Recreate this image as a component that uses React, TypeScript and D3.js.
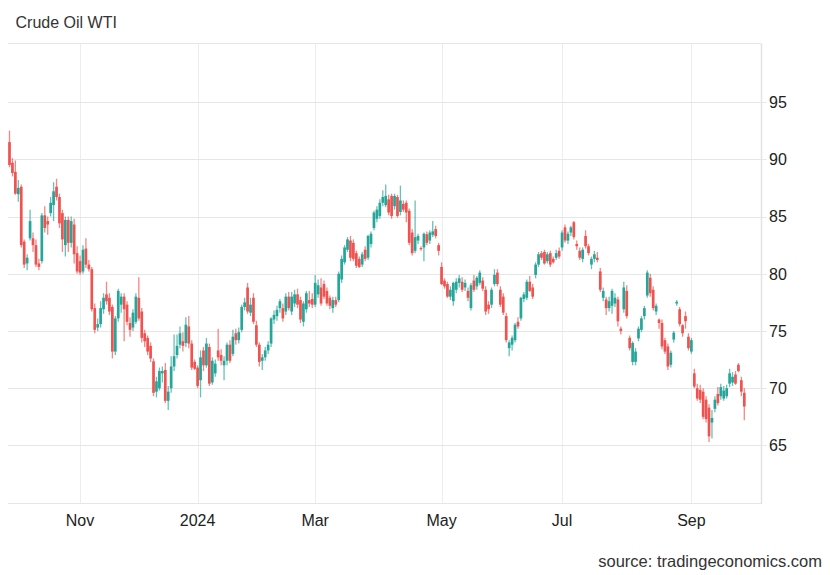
import React from 'react';
import * as d3 from 'd3';

// OHLC per trading day (Sep 29 2023 .. Sep 27 2024)
const opens = [
  91.5, 89.7, 88.9, 86.95, 87.6, 82.8, 80.9, 83.1, 83.1, 82.5, 80.9, 81.1, 85.1, 84.6, 85.3, 86.0, 87.6, 86.7, 85.3, 82.5, 84.7, 82.7, 84.3, 81.8,
  81.1, 80.2, 82.2, 80.8, 80.4, 77.0, 75.3, 75.6, 76.9, 78.2, 77.9, 77.1, 73.2, 76.1, 77.3, 78.0, 77.3, 75.7, 75.3, 75.8, 77.9, 76.7, 74.8, 74.4, 73.7, 72.35, 69.7, 70.0, 71.3, 71.6, 68.9, 70.0, 71.9, 72.9, 73.8, 74.1, 73.95, 75.4, 73.9, 72.3,
  71.8, 70.7, 73.3, 72.0, 73.6, 70.5, 71.3, 73.3, 72.9, 72.0, 72.4, 73.8, 73.0, 74.8, 74.2, 75.1, 77.1, 78.8, 76.6, 77.9, 75.5, 73.8, 72.4, 72.7, 73.3, 73.9, 76.0, 76.3, 77.0, 77.0, 76.7, 78.0, 76.7, 77.4, 78.2, 77.7, 75.8, 76.9, 77.7, 77.8,
  77.3, 78.2, 78.8, 79.1, 78.5, 77.9, 77.0, 77.7, 77.7, 79.5, 81.0, 82.1, 82.9, 82.7, 81.8, 81.3, 80.8, 82.1, 81.4, 82.6, 84.0, 84.8, 85.05, 86.2, 86.0, 86.5, 86.8, 85.9, 86.7, 85.4, 86.1, 86.2, 85.5, 83.6, 82.0, 82.9, 82.25, 82.3, 83.45, 82.9, 83.4, 83.9, 82.5,
  80.6, 79.4, 79.1, 78.0, 77.6, 78.6, 79.2, 79.3, 78.8, 78.5, 77.0, 79.4, 78.9, 79.2, 79.4, 78.6, 77.3, 77.3, 79.1, 80.1, 78.6, 78.0, 76.3, 73.5, 73.8, 74.2, 75.8, 76.1, 77.8, 77.9, 79.3, 78.8, 79.9, 80.8, 81.8, 81.9, 81.1, 81.8, 81.3, 81.4, 82.0,
  82.3, 84.05, 82.9, 83.6, 84.5, 82.6, 82.0, 81.3, 83.3, 82.4, 80.8, 81.3, 81.4, 80.2, 77.9, 77.75, 77.0, 77.2, 77.4, 77.75, 75.2, 76.9, 78.5, 74.4, 72.3, 72.3, 74.35, 75.1, 76.3, 78.1, 79.65, 78.6, 76.7, 76.0, 75.7, 74.2, 73.65, 72.05, 74.25, 77.4, 76.9, 75.5, 76.3, 74.5,
  73.2, 71.3, 70.0, 69.85, 69.7, 69.0, 68.3, 67.0, 68.2, 69.5, 69.3, 69.1, 69.3, 70.4, 70.5, 71.2, 72.05, 70.7, 69.6,
];
const highs = [
  92.5, 90.1, 89.9, 88.2, 87.8, 83.0, 81.7, 85.6, 83.6, 83.0, 81.3, 85.3, 85.9, 85.0, 86.7, 88.0, 88.3, 87.0, 85.6, 85.0, 85.0, 85.0, 84.8, 82.4,
  81.6, 82.5, 83.1, 81.2, 80.6, 77.4, 76.1, 77.6, 78.3, 79.3, 78.3, 77.3, 76.3, 78.7, 78.3, 78.3, 77.6, 76.2, 76.9, 78.3, 79.7, 77.0, 75.1, 74.6, 74.0, 72.6, 71.0, 71.8, 71.9, 72.2, 70.2, 72.8, 74.7, 74.7, 75.4, 74.9, 76.2, 76.3, 74.2, 72.5,
  72.0, 73.3, 73.6, 74.4, 73.9, 72.7, 72.5, 75.2, 73.4, 72.8, 74.0, 74.2, 75.1, 75.2, 75.3, 77.3, 77.9, 79.2, 77.9, 78.3, 75.9, 74.0, 73.0, 73.6, 74.1, 76.2, 76.8, 77.2, 77.8, 77.4, 78.3, 78.4, 78.4, 78.6, 78.7, 78.0, 77.6, 78.5, 78.5, 78.3,
  79.9, 79.5, 79.6, 79.4, 78.8, 78.1, 78.0, 78.0, 80.2, 81.6, 82.5, 83.2, 83.3, 83.0, 82.0, 81.5, 81.9, 82.4, 83.4, 83.7, 85.5, 85.9, 86.5, 87.3, 87.8, 86.9, 87.0, 87.0, 86.9, 87.7, 86.4, 86.4, 85.7, 83.9, 86.4, 83.5, 82.4, 83.6, 83.7, 83.8, 84.6, 84.2, 82.7,
  81.0, 79.6, 79.3, 78.9, 79.3, 79.6, 79.9, 79.7, 79.5, 78.8, 79.2, 79.9, 79.8, 80.3, 79.7, 78.9, 77.6, 78.8, 80.4, 80.4, 78.9, 78.3, 76.6, 74.2, 74.6, 75.7, 76.2, 78.0, 78.4, 79.5, 79.8, 79.1, 81.0, 81.9, 82.0, 82.1, 81.9, 82.0, 81.5, 82.1, 82.3,
  83.8, 84.3, 83.7, 84.2, 84.6, 82.9, 82.3, 82.3, 83.8, 82.6, 81.5, 82.0, 81.9, 80.5, 78.8, 78.0, 78.0, 78.7, 78.3, 78.0, 75.4, 79.3, 79.0, 74.6, 74.1, 73.5, 75.4, 76.3, 77.2, 80.3, 80.0, 78.9, 77.4, 76.1, 76.0, 74.4, 73.9, 73.3, 75.0, 77.7, 77.1, 75.6, 76.7, 74.8,
  74.4, 71.7, 70.4, 70.3, 70.0, 69.3, 68.6, 68.1, 69.3, 70.1, 70.4, 70.2, 70.3, 71.7, 71.4, 71.5, 72.2, 71.0, 70.0,
];
const lows = [
  89.3, 88.5, 86.9, 86.3, 82.3, 80.5, 80.3, 82.9, 81.9, 80.6, 80.3, 80.9, 83.6, 83.4, 85.0, 84.6, 86.4, 84.0, 81.9, 81.5, 81.9, 82.3, 80.9, 80.0,
  79.9, 80.0, 80.5, 80.2, 76.7, 74.8, 75.0, 75.3, 76.5, 77.3, 76.4, 72.6, 72.9, 75.8, 76.6, 74.1, 75.5, 74.5, 75.0, 75.6, 75.9, 74.0, 73.6, 72.9, 72.3, 69.3, 69.2, 69.8, 70.5, 68.7, 68.1, 69.6, 71.5, 72.6, 73.5, 73.2, 73.6, 73.5, 71.6, 71.6,
  70.0, 69.2, 71.5, 71.8, 70.2, 70.3, 71.0, 72.4, 72.0, 70.7, 72.0, 72.2, 72.8, 73.8, 73.9, 74.9, 76.8, 76.5, 76.3, 75.6, 73.6, 71.9, 71.6, 72.4, 73.0, 73.6, 75.6, 75.9, 76.6, 75.8, 76.4, 76.8, 76.4, 77.1, 77.0, 75.7, 75.4, 76.6, 77.1, 77.0,
  77.1, 77.9, 77.2, 77.8, 77.2, 76.9, 76.6, 77.1, 77.5, 79.2, 80.8, 81.9, 81.1, 81.1, 80.5, 80.5, 80.6, 81.1, 81.2, 82.3, 83.8, 84.5, 84.8, 85.9, 85.8, 85.1, 84.8, 85.6, 84.9, 85.1, 85.4, 84.5, 82.5, 81.6, 81.8, 82.6, 82.0, 81.1, 82.5, 82.6, 83.2, 83.1, 81.6,
  79.0, 78.7, 77.9, 77.7, 77.2, 78.3, 78.8, 78.4, 78.5, 77.6, 76.8, 78.4, 78.6, 79.0, 78.5, 76.4, 76.5, 77.0, 78.9, 78.9, 77.1, 76.4, 74.0, 72.8, 73.3, 74.0, 75.2, 75.9, 77.5, 77.7, 78.4, 77.8, 79.6, 80.6, 81.2, 80.8, 80.9, 80.6, 80.9, 81.2, 81.3,
  82.0, 82.7, 82.6, 83.3, 83.0, 82.1, 81.2, 81.0, 82.2, 81.6, 80.4, 81.0, 81.0, 78.4, 77.6, 76.4, 76.7, 76.5, 77.1, 75.4, 74.7, 76.6, 76.1, 73.3, 72.0, 72.0, 74.1, 74.9, 76.0, 77.9, 78.0, 76.8, 76.4, 75.2, 73.4, 73.0, 71.6, 71.8, 74.0, 77.2, 75.4, 74.5, 75.2, 73.3,
  73.0, 70.0, 68.9, 68.7, 67.3, 67.0, 65.3, 65.6, 67.9, 68.5, 69.0, 68.9, 69.1, 70.1, 70.2, 70.3, 71.4, 69.3, 67.2,
];
const closes = [
  89.5, 88.8, 87.0, 87.5, 82.5, 80.8, 81.4, 84.6, 82.5, 80.8, 80.6, 85.1, 84.0, 84.3, 86.2, 87.2, 86.7, 84.4, 83.0, 84.7, 82.7, 84.6, 81.7, 80.2,
  80.1, 82.1, 80.8, 80.4, 76.9, 75.1, 75.6, 77.0, 77.9, 77.6, 76.7, 73.2, 76.1, 78.5, 78.0, 76.9, 75.8, 75.1, 76.6, 78.0, 76.1, 74.4, 74.1, 73.2, 72.6, 69.6, 70.6, 71.5, 71.5, 68.9, 69.7, 71.9, 72.8, 73.7, 74.8, 73.7, 75.55, 73.9, 71.8, 71.7,
  70.2, 72.7, 72.0, 73.9, 70.4, 72.4, 72.15, 72.7, 72.4, 72.4, 73.8, 72.4, 74.5, 74.2, 74.9, 77.1, 77.5, 76.7, 77.3, 75.8, 73.8, 72.3, 72.7, 73.3, 73.8, 76.1, 76.4, 76.85, 77.6, 76.1, 78.0, 77.0, 78.0, 78.2, 77.3, 76.0, 77.4, 78.3, 77.4, 77.3,
  79.2, 79.0, 77.4, 78.0, 77.4, 77.2, 77.7, 77.3, 80.0, 81.3, 82.3, 83.0, 81.4, 81.3, 80.7, 80.6, 81.7, 81.3, 83.3, 83.5, 85.35, 85.6, 86.2, 86.7, 86.8, 85.35, 85.05, 86.8, 85.05, 86.4, 85.6, 85.35, 82.7, 81.8, 83.2, 83.3, 82.15, 83.5, 82.7, 83.6, 83.7, 83.3, 82.0,
  79.1, 78.9, 78.0, 78.6, 79.2, 79.3, 79.6, 78.6, 79.2, 77.9, 79.0, 78.6, 79.65, 80.1, 78.7, 76.7, 76.9, 78.6, 79.9, 79.1, 77.3, 76.6, 74.2, 74.0, 74.4, 75.55, 75.4, 77.9, 78.2, 79.3, 78.5, 78.0, 80.8, 81.7, 81.4, 80.9, 81.7, 80.8, 81.0, 81.8, 81.5,
  83.6, 82.9, 83.5, 84.05, 83.2, 82.4, 81.4, 82.1, 82.4, 81.8, 81.3, 81.7, 81.2, 78.6, 78.5, 77.0, 77.6, 78.5, 77.9, 75.85, 75.0, 78.8, 76.3, 73.5, 73.95, 73.2, 75.2, 76.1, 77.0, 80.1, 78.3, 77.0, 77.2, 75.7, 73.65, 73.2, 71.9, 73.1, 74.85, 77.55, 75.6, 74.8, 75.85, 73.5,
  74.2, 70.15, 69.1, 69.0, 67.5, 67.3, 65.8, 67.4, 69.0, 68.7, 70.1, 69.8, 70.0, 71.3, 71.0, 70.4, 71.5, 69.7, 68.4,
];

const yTicks = [65, 70, 75, 80, 85, 90, 95];
const yGrid = [60, 65, 70, 75, 80, 85, 90, 95];
const monthLabels = ['Nov', '2024', 'Mar', 'May', 'Jul', 'Sep'];
const monthIndex = [24, 64, 104, 147, 188, 232];

const W = 830;
const H = 575;
const UP = '#26a69a';
const DOWN = '#ef5350';
const FONT = '"Liberation Sans", Arial, Helvetica, sans-serif';

export default function App() {
  const n = Math.min(opens.length, highs.length, lows.length, closes.length);
  const data = d3.range(n).map((i) => ({
    i,
    o: opens[i],
    h: Math.max(highs[i], opens[i], closes[i]),
    l: Math.min(lows[i], opens[i], closes[i]),
    c: closes[i],
  }));

  const plotLeft = 8;
  const plotRight = 761.5;
  const plotTop = 43.5;
  const plotBottom = 503;

  const x = d3.scaleLinear().domain([0, 250]).range([9.5, 744.3]);
  const y = d3.scaleLinear().domain([60, 100]).range([502.7, 44.8]);
  const bw = 2.7;

  return (
    <svg
      width={W}
      height={H}
      viewBox={`0 0 ${W} ${H}`}
      style={{ position: 'absolute', left: 0, top: 0, background: '#fff' }}
    >
      <rect x={0} y={0} width={W} height={H} fill="#fff" />
      <text x={15.5} y={28} fontFamily={FONT} fontSize={16} fill="#333">
        Crude Oil WTI
      </text>

      {/* vertical grid */}
      {monthIndex.map((mi, k) => (
        <line
          key={'vg' + k}
          x1={Math.round(x(mi)) + 0.5}
          x2={Math.round(x(mi)) + 0.5}
          y1={plotTop}
          y2={plotBottom}
          stroke="#e8eef2"
          strokeWidth={1}
        />
      ))}

      {/* horizontal grid */}
      {yGrid.map((v) => (
        <line
          key={'hg' + v}
          x1={plotLeft}
          x2={plotRight}
          y1={Math.round(y(v)) + 0.5}
          y2={Math.round(y(v)) + 0.5}
          stroke="#e6e6e6"
          strokeWidth={1}
        />
      ))}
      <line x1={plotLeft} x2={plotRight} y1={plotTop} y2={plotTop} stroke="#e6e6e6" strokeWidth={1} />
      <line x1={plotRight} x2={plotRight} y1={plotTop} y2={plotBottom + 1} stroke="#e3e3e3" strokeWidth={1.5} />
      {yTicks.map((v) => (
        <line
          key={'yt' + v}
          x1={plotRight}
          x2={plotRight + 5}
          y1={Math.round(y(v)) + 0.5}
          y2={Math.round(y(v)) + 0.5}
          stroke="#e6e6e6"
          strokeWidth={1}
        />
      ))}

      {/* candles */}
      {data.map((d) => {
        const cx = x(d.i);
        const col = d.c >= d.o ? UP : DOWN;
        const top = y(Math.max(d.o, d.c));
        const bot = y(Math.min(d.o, d.c));
        return (
          <g key={'c' + d.i}>
            <line x1={cx} x2={cx} y1={y(d.h)} y2={y(d.l)} stroke={col} strokeOpacity={0.7} strokeWidth={1.3} />
            <rect x={cx - bw / 2} y={top} width={bw} height={Math.max(1.2, bot - top)} fill={col} />
          </g>
        );
      })}

      {/* y labels */}
      {yTicks.map((v) => (
        <text key={'yl' + v} x={769} y={y(v) + 5.8} fontFamily={FONT} fontSize={16} fill="#222">
          {v}
        </text>
      ))}

      {/* x labels */}
      {monthIndex.map((mi, k) => (
        <text
          key={'xl' + k}
          x={x(mi)}
          y={526}
          textAnchor="middle"
          fontFamily={FONT}
          fontSize={16}
          fill="#222"
        >
          {monthLabels[k]}
        </text>
      ))}

      <text x={822} y={567} textAnchor="end" fontFamily={FONT} fontSize={16.5} fill="#333">
        source: tradingeconomics.com
      </text>
    </svg>
  );
}
